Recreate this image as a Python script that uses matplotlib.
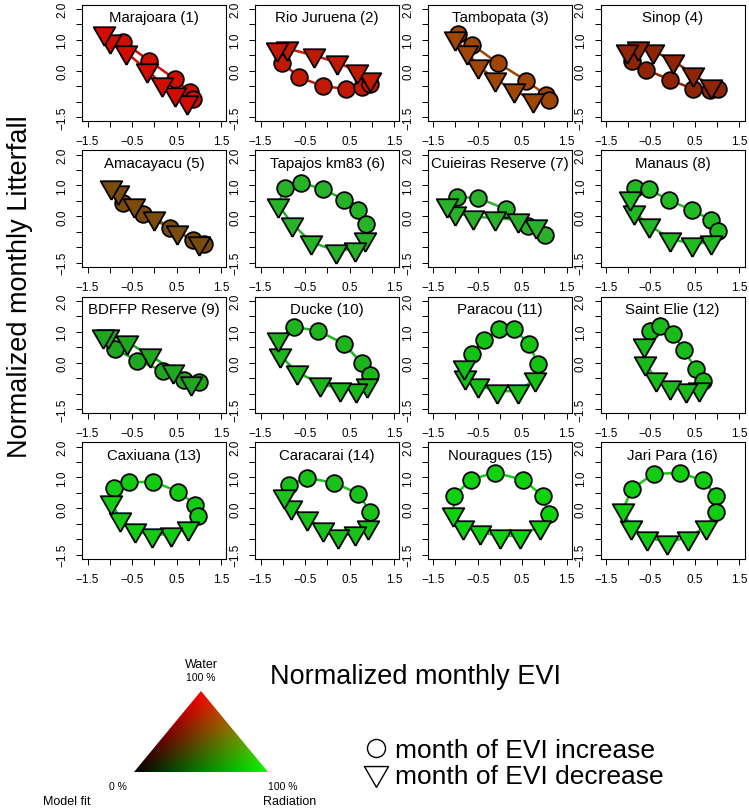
import matplotlib.pyplot as plt
import numpy as np
from matplotlib.lines import Line2D
from matplotlib.patches import Polygon

plt.rcParams['font.family'] = ['Liberation Sans', 'DejaVu Sans']

W, H = 749, 812

# site names and colours (water share -> red, radiation share -> green)
sites = ["Marajoara (1)", "Rio Juruena (2)", "Tambopata (3)", "Sinop (4)",
         "Amacayacu (5)", "Tapajos km83 (6)", "Cuieiras Reserve (7)", "Manaus (8)",
         "BDFFP Reserve (9)", "Ducke (10)", "Paracou (11)", "Saint Elie (12)",
         "Caxiuana (13)", "Caracarai (14)", "Nouragues (15)", "Jari Para (16)"]
site_colors = ["#d20d00", "#c21a02", "#a04605", "#8f2506",
               "#7a4b0c", "#27b327", "#2ab12a", "#22ba22",
               "#1fa81f", "#1cb51c", "#13c213", "#18bb18",
               "#12cb12", "#18c218", "#0fd20f", "#11cd11"]

# months of EVI increase (circles), in month order
inc_evi = [
    [-0.70, -0.11, 0.46, 0.80, 0.87],
    [-1.02, -0.63, -0.10, 0.43, 0.77, 0.96],
    [-0.94, -0.62, -0.04, 0.59, 1.04, 1.09],
    [-0.92, -0.60, -0.06, 0.45, 0.84, 1.02],
    [-0.71, -0.26, 0.36, 0.86, 1.11],
    [-0.96, -0.58, -0.09, 0.38, 0.70, 0.88],
    [-0.97, -0.50, 0.13, 0.63, 1.01],
    [-0.85, -0.53, -0.08, 0.43, 0.85, 1.01],
    [-0.89, -0.39, 0.19, 0.67, 1.00],
    [-0.74, -0.21, 0.37, 0.77, 0.97],
    [-0.63, -0.36, -0.02, 0.32, 0.65, 0.85],
    [-0.52, -0.28, 0.00, 0.26, 0.52, 0.67],
    [-0.90, -0.56, -0.02, 0.54, 0.92, 0.99],
    [-0.87, -0.45, 0.15, 0.70, 0.96],
    [-1.03, -0.66, -0.12, 0.51, 0.97, 1.09],
    [-0.91, -0.43, 0.17, 0.69, 0.98, 0.98],
]
inc_litter = [
    [0.93, 0.32, -0.27, -0.70, -0.91],
    [0.26, -0.21, -0.50, -0.59, -0.54, -0.43],
    [1.18, 0.83, 0.24, -0.32, -0.80, -0.96],
    [0.32, 0.03, -0.29, -0.59, -0.64, -0.59],
    [0.42, 0.06, -0.37, -0.77, -0.91],
    [0.93, 1.09, 0.87, 0.54, 0.22, -0.26],
    [0.62, 0.60, 0.23, -0.33, -0.62],
    [0.90, 0.87, 0.52, 0.20, -0.11, -0.46],
    [0.45, 0.07, -0.26, -0.55, -0.64],
    [1.15, 1.04, 0.61, 0.00, -0.41],
    [0.29, 0.72, 1.10, 1.08, 0.61, -0.03],
    [1.02, 1.20, 0.94, 0.40, -0.21, -0.59],
    [0.65, 0.84, 0.86, 0.54, 0.12, -0.26],
    [0.76, 0.98, 0.83, 0.47, -0.11],
    [0.39, 0.93, 1.15, 0.93, 0.39, -0.18],
    [0.63, 1.12, 1.14, 0.90, 0.41, -0.11],
]

# months of EVI decrease (triangles), in month order
dec_evi = [
    [0.73, 0.46, 0.17, -0.17, -0.63, -0.99, -1.14],
    [0.96, 0.66, 0.21, -0.31, -0.91, -1.13],
    [0.75, 0.32, -0.11, -0.49, -0.74, -1.01],
    [0.85, 0.46, 0.01, -0.44, -0.77, -1.03],
    [1.00, 0.50, 0.00, -0.45, -0.82, -0.97],
    [0.85, 0.63, 0.20, -0.36, -0.79, -1.10],
    [0.80, 0.41, -0.12, -0.60, -1.02, -1.18],
    [0.87, 0.43, -0.05, -0.53, -0.87, -0.96],
    [0.82, 0.43, -0.09, -0.62, -1.04, -1.15],
    [0.89, 0.65, 0.29, -0.16, -0.69, -1.06, -1.10],
    [0.78, 0.41, -0.07, -0.50, -0.79, -0.82],
    [0.58, 0.29, -0.05, -0.38, -0.63, -0.65],
    [0.76, 0.37, -0.05, -0.43, -0.77, -0.97],
    [0.92, 0.63, 0.25, -0.10, -0.45, -0.81, -0.98],
    [0.89, 0.46, 0.01, -0.45, -0.84, -1.05],
    [0.75, 0.34, -0.12, -0.58, -0.94, -1.12],
]
dec_litter = [
    [-1.02, -0.75, -0.43, 0.03, 0.59, 0.96, 1.23],
    [-0.27, 0.00, 0.27, 0.50, 0.72, 0.70],
    [-0.96, -0.64, -0.27, 0.16, 0.59, 1.07],
    [-0.50, -0.11, 0.32, 0.64, 0.75, 0.64],
    [-0.86, -0.50, -0.05, 0.38, 0.80, 0.95],
    [-0.73, -1.05, -1.11, -0.84, -0.24, 0.36],
    [-0.33, -0.12, -0.05, -0.02, 0.12, 0.36],
    [-0.84, -0.89, -0.73, -0.29, 0.14, 0.58],
    [-0.66, -0.26, 0.24, 0.67, 0.88, 0.88],
    [-0.73, -0.89, -0.84, -0.68, -0.30, 0.24, 0.77],
    [-0.54, -0.92, -0.92, -0.73, -0.46, -0.14],
    [-0.84, -0.89, -0.78, -0.52, 0.00, 0.56],
    [-0.64, -0.82, -0.88, -0.71, -0.34, 0.20],
    [-0.59, -0.80, -0.91, -0.67, -0.33, 0.03, 0.41],
    [-0.59, -0.89, -0.89, -0.78, -0.59, -0.18],
    [-0.59, -0.95, -1.09, -0.95, -0.62, -0.04],
]

XLIM = (-1.62, 1.62)
YLIM = (-1.64, 2.14)
xticks = [-1.5, -1.0, -0.5, 0.0, 0.5, 1.0, 1.5]
xticklabels = ["\u22121.5", "", "\u22120.5", "", "0.5", "", "1.5"]
yticks = [-1.5, -1.0, -0.5, 0.0, 0.5, 1.0, 1.5, 2.0]
yticklabels = ["\u22121.5", "", "", "0.0", "", "1.0", "", "2.0"]

# R-style down triangle (centroid on the point)
tri = [(0, -1.555), (1.347, 0.778), (-1.347, 0.778), (0, -1.555)]

fig = plt.figure(figsize=(W / 100, H / 100), dpi=100)


def px_axes(left, top, width, height):
    return fig.add_axes([left / W, 1 - (top + height) / H, width / W, height / H])


# panel grid in pixels: data origin of each column / row, px per unit
col_x0 = [154.3, 327.3, 500.0, 672.7]
row_y0 = [71.7, 217.3, 363.7, 509.3]
ux, uy = 44.5, 30.9

for i, name in enumerate(sites):
    r, c = divmod(i, 4)
    ax = px_axes(col_x0[c] + XLIM[0] * ux, row_y0[r] - YLIM[1] * uy,
                 (XLIM[1] - XLIM[0]) * ux, (YLIM[1] - YLIM[0]) * uy)
    col = site_colors[i]
    lx = inc_evi[i] + dec_evi[i] + inc_evi[i][:1]
    ly = inc_litter[i] + dec_litter[i] + inc_litter[i][:1]
    ax.plot(lx, ly, color=col, lw=1.8, zorder=1)
    ax.plot(inc_evi[i], inc_litter[i], ls='none', marker='o', ms=12,
            mfc=col, mec='black', mew=1.3, zorder=2)
    ax.plot(dec_evi[i], dec_litter[i], ls='none', marker=tri, ms=18,
            mfc=col, mec='black', mew=1.3, zorder=3)

    ax.set_xlim(XLIM)
    ax.set_ylim(YLIM)
    ax.set_xticks(xticks)
    ax.set_xticklabels(xticklabels)
    ax.set_yticks(yticks)
    ax.set_yticklabels(yticklabels, rotation=90, va='center')
    ax.tick_params(direction='out', length=4.5, width=0.7, labelsize=8.5, pad=5.5)
    for sp in ax.spines.values():
        sp.set_linewidth(0.8)
    ax.text(0.5, 0.89, name, transform=ax.transAxes, ha='center', va='center',
            fontsize=10.8)

fig.text(415 / W, 1 - 677 / H, "Normalized monthly EVI", ha='center', va='center',
         fontsize=19.5)
fig.text(20 / W, 1 - 287 / H, "Normalized monthly Litterfall", ha='center',
         va='center', rotation=90, fontsize=19.5)

# ternary colour key: top = water (red), right = radiation (green), left = black
tax = px_axes(134, 692, 134, 81)
n = 300
gx, gy = np.meshgrid(np.linspace(0, 1, n), np.linspace(0, 1, n))
water = gy
rad = np.clip(gx - 0.5 * gy, 0, 1)
rgb = np.dstack([water, rad, np.zeros_like(gx)])
im = tax.imshow(rgb, extent=(0, 1, 0, 1), origin='lower', aspect='auto')
im.set_clip_path(Polygon([(0, 0), (0.5, 1), (1, 0)], closed=True,
                         transform=tax.transData))
tax.set_xlim(0, 1)
tax.set_ylim(0, 1)
tax.axis('off')

fig.text(201 / W, 1 - 665 / H, "Water", ha='center', va='center', fontsize=9)
fig.text(201 / W, 1 - 678 / H, "100 %", ha='center', va='center', fontsize=7.5)
fig.text(118 / W, 1 - 787 / H, "0 %", ha='center', va='center', fontsize=7.5)
fig.text(67 / W, 1 - 802 / H, "Model fit", ha='center', va='center', fontsize=9)
fig.text(283 / W, 1 - 787 / H, "100 %", ha='center', va='center', fontsize=7.5)
fig.text(290 / W, 1 - 802 / H, "Radiation", ha='center', va='center', fontsize=9)

handles = [Line2D([], [], ls='none', marker='o', ms=13, mfc='none', mec='black', mew=1.0),
           Line2D([], [], ls='none', marker=tri, ms=20, mfc='none', mec='black', mew=1.0)]
fig.legend(handles, ["month of EVI increase", "month of EVI decrease"],
           loc='center left', bbox_to_anchor=(338 / W, 1 - 764 / H), frameon=False,
           fontsize=19, handletextpad=0.15, labelspacing=0.05, handlelength=1.1)

fig.savefig("out.png", dpi=100)
